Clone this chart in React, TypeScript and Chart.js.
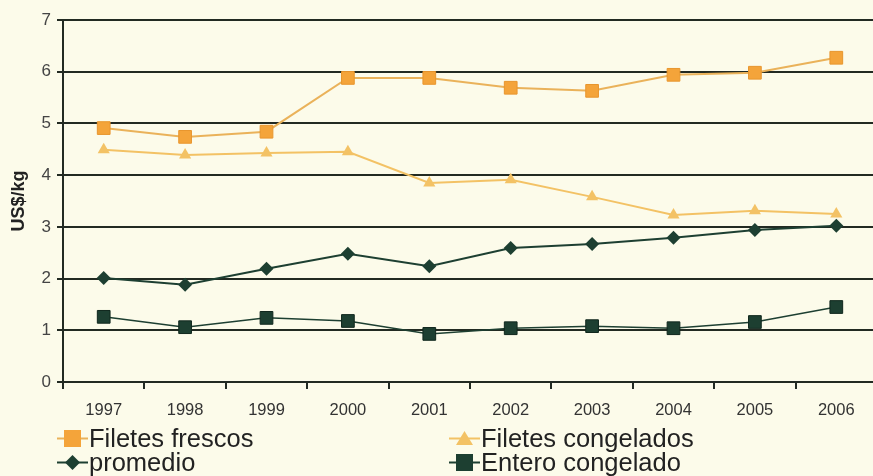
import React, { useEffect, useRef } from "react";
import { Chart, registerables } from "chart.js";

Chart.register(...registerables);

const years = ["1997", "1998", "1999", "2000", "2001", "2002", "2003", "2004", "2005", "2006"];
const fileteFrescos = [4.91, 4.74, 4.84, 5.88, 5.88, 5.69, 5.63, 5.94, 5.98, 6.27];
const filetesCongelados = [4.49, 4.39, 4.43, 4.45, 3.85, 3.91, 3.58, 3.23, 3.31, 3.25];
const promedio = [2.01, 1.88, 2.19, 2.48, 2.24, 2.59, 2.67, 2.79, 2.94, 3.02];
const enteroCongelado = [1.26, 1.06, 1.24, 1.18, 0.93, 1.04, 1.08, 1.04, 1.16, 1.45];
const yTitle = "US$/kg";

const BG = "#fcfbea";
const ORANGE = "#f4a43a";
const ORANGE_LINE = "#eab25a";
const LIGHT_ORANGE = "#f3c265";
const GREEN = "#1d3f31";
const GRID = "#222a22";

const legendItems = [
  { label: "Filetes frescos", color: ORANGE, line: ORANGE_LINE, shape: "square" },
  { label: "Filetes congelados", color: LIGHT_ORANGE, line: LIGHT_ORANGE, shape: "triangle" },
  { label: "promedio", color: GREEN, line: GREEN, shape: "diamond" },
  { label: "Entero congelado", color: GREEN, line: GREEN, shape: "square" },
];

function Icon({ color, line, shape }: { color: string; line: string; shape: string }) {
  let marker: React.ReactNode = null;
  if (shape === "square") marker = <rect x={7} y={2} width={17} height={17} fill={color} />;
  if (shape === "triangle") marker = <polygon points="15.5,3 24,17 7,17" fill={color} />;
  if (shape === "diamond") marker = <polygon points="15.5,3 23,10.5 15.5,18 8,10.5" fill={color} />;
  return (
    <svg width={32} height={21} style={{ verticalAlign: "middle", marginRight: 0 }}>
      <line x1={0} y1={10.5} x2={31} y2={10.5} stroke={line} strokeWidth={2} />
      {marker}
    </svg>
  );
}

export default function App() {
  const ref = useRef<HTMLCanvasElement>(null);
  useEffect(() => {
    document.body.style.margin = "0";
    const ctx = ref.current!;
    const chart = new Chart(ctx, {
      type: "line",
      data: {
        labels: years,
        datasets: [
          {
            label: "Filetes frescos",
            data: fileteFrescos,
            borderColor: ORANGE_LINE,
            backgroundColor: ORANGE,
            borderWidth: 2,
            pointStyle: "rect",
            pointRadius: 9,
            pointBorderColor: "#e8962e",
            pointBorderWidth: 1,
          },
          {
            label: "Filetes congelados",
            data: filetesCongelados,
            borderColor: LIGHT_ORANGE,
            backgroundColor: LIGHT_ORANGE,
            borderWidth: 2,
            pointStyle: "triangle",
            pointRadius: 7,
            pointBorderWidth: 0,
          },
          {
            label: "promedio",
            data: promedio,
            borderColor: GREEN,
            backgroundColor: GREEN,
            borderWidth: 2,
            pointStyle: "rectRot",
            pointRadius: 7,
            pointBorderWidth: 0,
          },
          {
            label: "Entero congelado",
            data: enteroCongelado,
            borderColor: GREEN,
            backgroundColor: GREEN,
            borderWidth: 1.5,
            pointStyle: "rect",
            pointRadius: 9,
            pointBorderColor: "#10271d",
            pointBorderWidth: 1,
          },
        ],
      },
      options: {
        animation: false,
        responsive: false,
        maintainAspectRatio: false,
        layout: { autoPadding: false, padding: { top: 20, right: 0, left: 8, bottom: 0 } },
        plugins: { legend: { display: false }, tooltip: { enabled: false } },
        scales: {
          x: {
            offset: true,
            grid: {
              offset: true,
              drawOnChartArea: false,
              drawTicks: true,
              tickLength: 7,
              color: GRID,
              lineWidth: 2,
            },
            border: { display: true, color: GRID, width: 2 },
            ticks: { color: "#333", font: { family: "Liberation Sans, Arial", size: 16.5 }, padding: 12 },
            afterFit: (s: any) => {
              s.height = 46;
              s.paddingLeft = 0;
              s.paddingRight = 0;
            },
          },
          y: {
            min: 0,
            max: 7,
            ticks: {
              stepSize: 1,
              color: "#444",
              font: { family: "Liberation Sans, Arial", size: 17 },
              padding: 6,
            },
            grid: { color: GRID, lineWidth: 2, tickLength: 6, drawTicks: true },
            border: { display: true, color: GRID, width: 2 },
            title: {
              display: true,
              text: yTitle,
              color: "#222",
              font: { family: "Liberation Sans, Arial", size: 18, weight: "bold" },
              padding: { top: 0, bottom: 6 },
            },
            afterFit: (s: any) => {
              s.width = 55;
            },
          },
        },
      },
    });
    return () => chart.destroy();
  }, []);

  return (
    <div style={{ position: "absolute", left: 0, top: 0, width: 873, height: 476, background: BG, overflow: "hidden" }}>
      <canvas ref={ref} width={877} height={428} style={{ display: "block" }} />
      <div
        style={{
          position: "absolute",
          top: 424,
          left: 57,
          display: "grid",
          gridTemplateColumns: "392px 420px",
          fontFamily: "Liberation Sans, Arial, sans-serif",
          fontSize: 25.5,
          lineHeight: "24px",
          color: "#222",
        }}
      >
        {legendItems.map((it) => (
          <div key={it.label} style={{ whiteSpace: "nowrap", height: 24 }}>
            <Icon color={it.color} line={it.line} shape={it.shape} />
            <span style={{ verticalAlign: "middle" }}>{it.label}</span>
          </div>
        ))}
      </div>
    </div>
  );
}
